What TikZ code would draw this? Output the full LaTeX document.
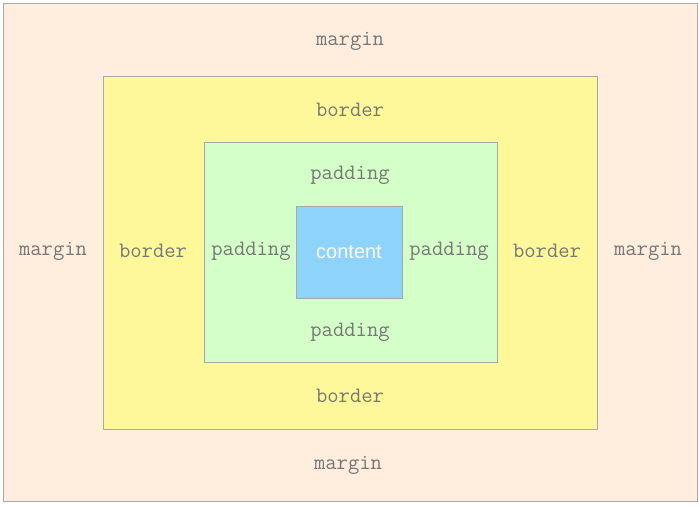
\documentclass[tikz,border=0pt]{standalone}
\usepackage{fontspec}
\setsansfont{Liberation Sans}
\usepackage{xcolor}
\usetikzlibrary{positioning}

\definecolor{marginfill}{HTML}{FFEEDD}
\definecolor{borderfill}{HTML}{FFF89A}
\definecolor{paddingfill}{HTML}{D5FFC8}
\definecolor{contentfill}{HTML}{8DD3FA}
\definecolor{edgegray}{HTML}{A8A8A8}
\definecolor{textgray}{HTML}{777777}

\begin{document}
\begin{tikzpicture}[
        x=1pt, y=-1pt,
        box/.style={rectangle, inner sep=0pt, outer sep=0pt, draw=edgegray, line width=0.8pt},
        lbl/.style={text=textgray, font=\ttfamily\fontsize{22}{24}\selectfont, inner sep=0pt},
        contentlbl/.style={text=white, font=\sffamily\fontsize{20}{22}\selectfont, inner sep=0pt}
        ]
        \useasboundingbox (0,0) rectangle (700,505);

        % boxes, outside in
        \node (margin) [box, fill=marginfill, minimum width=693.5pt, minimum height=498pt] at (350.25,252.5) {};
        \node (border) [box, fill=borderfill, minimum width=494pt, minimum height=353pt] at (350,252.5) {};
        \node (padding) [box, fill=paddingfill, minimum width=293pt, minimum height=220pt] at (350.5,252) {};
        \node (content) [box, fill=contentfill, minimum width=106pt, minimum height=92pt] at (349,252) {};
        \node (contenttext) [contentlbl] at (content.center) {content};

        % labels
        \node (margintop) [lbl] at (350,41) {margin};
        \node (marginbottom) [lbl] at (348,465) {margin};
        \node (marginleft) [lbl] at (53,251) {margin};
        \node (marginright) [lbl] at (648,251) {margin};
        \node (bordertop) [lbl] at (350,110) {border};
        \node (borderbottom) [lbl] at (350,396) {border};
        \node (borderleft) [lbl] at (153,251) {border};
        \node (borderright) [lbl] at (547,251) {border};
        \node (paddingtop) [lbl] at (350,175) {padding};
        \node (paddingbottom) [lbl] at (350,332) {padding};
        \node (paddingleft) [lbl] at (251,251) {padding};
        \node (paddingright) [lbl] at (449,251) {padding};

    \end{tikzpicture}
\end{document}
